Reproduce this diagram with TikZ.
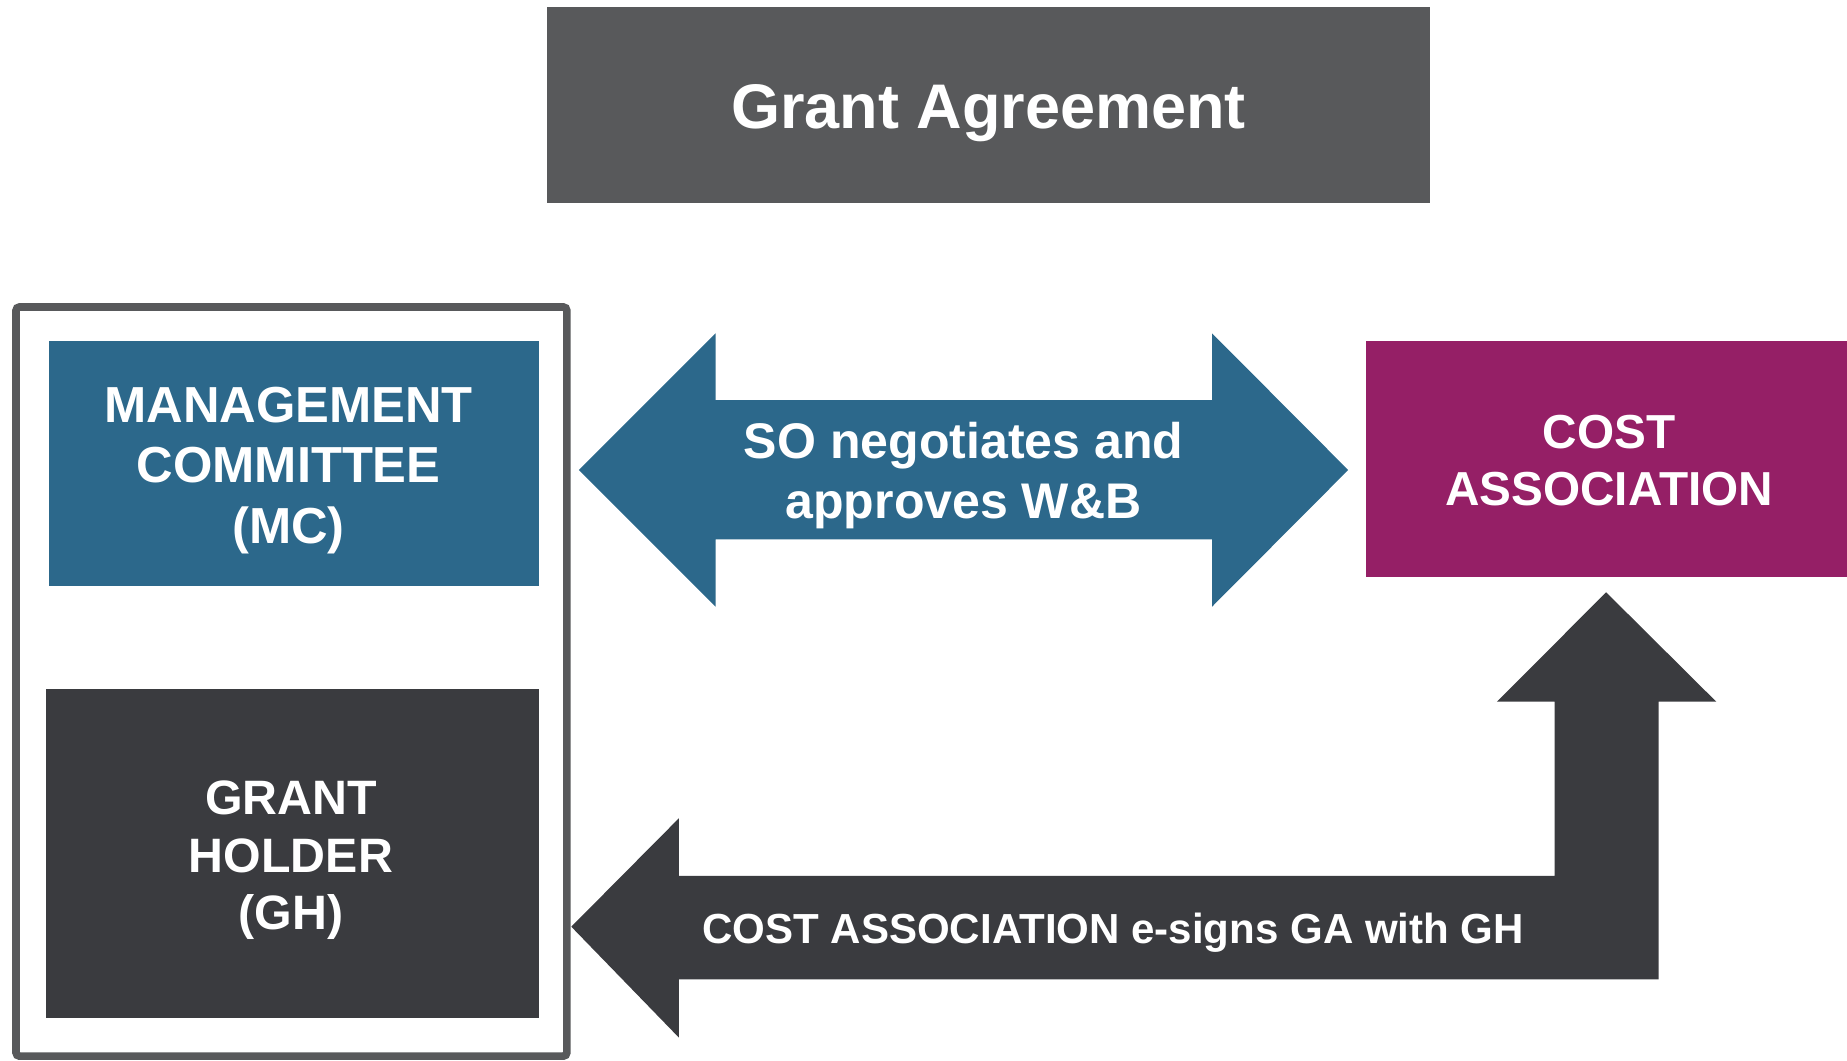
\documentclass[tikz,border=0pt]{standalone}
\usepackage{fontspec}
\setmainfont{Liberation Sans}
\definecolor{gagray}{HTML}{58595B}
\definecolor{gablue}{HTML}{2C688B}
\definecolor{gamag}{HTML}{951F66}
\definecolor{gadark}{HTML}{3A3B3F}
\begin{document}
\begin{tikzpicture}[x=1pt,y=-1pt,
  box/.style={draw=none,inner sep=0pt,outer sep=0pt},
  txt/.style={text=white,inner sep=0pt,outer sep=0pt,align=center,anchor=base},
  frameline/.style={draw=gagray,line width=6.5pt,rounded corners=3pt}]
\useasboundingbox (0,0) rectangle (1568,900);
% boxes
\node[box,fill=gagray,minimum width=749.2pt,minimum height=166.9pt] (ga) at (839,89.15) {};
\draw[frameline] (13.6,260.6) rectangle (481.2,896.6);
\coordinate (frame) at (247.4,578.6);
\node[box,fill=gablue,minimum width=416.2pt,minimum height=208pt] (mc) at (249.4,393.5) {};
\node[box,fill=gadark,minimum width=418.7pt,minimum height=279.3pt] (gh) at (248.05,724.85) {};
\node[box,fill=gamag,minimum width=408.7pt,minimum height=200.5pt] (ca) at (1363.65,389.75) {};
% double arrow SO
\coordinate (dl) at (491.5,399);
\coordinate (dr) at (1144.5,399);
\fill[gablue] (dl) -- (607.5,283) -- (607.5,339.6) -- (1029,339.6) -- (1029,283) -- (dr)
  -- (1029,515) -- (1029,457.8) -- (607.5,457.8) -- (607.5,515) -- cycle;
% bent arrow
\coordinate (bt) at (1363.5,502.8);
\coordinate (bl) at (485,786.7);
\fill[gadark] (bt) -- (1457,595.7) -- (1408,595.7) -- (1408,831.5) -- (576.3,831.5)
  -- (576.3,880.8) -- (bl) -- (576.3,694.7) -- (576.3,743.5) -- (1319.8,743.5)
  -- (1319.8,595.7) -- (1270.8,595.7) -- cycle;
% texts (anchor base = baseline of last line)
\node[txt,font=\bfseries\fontsize{53.5}{60}\selectfont] (gat) at (839.3,109.5) {Grant Agreement};
\node[txt,font=\bfseries\fontsize{43}{51}\selectfont] (mct) at (245,461) {MANAGEMENT\\COMMITTEE\\(MC)};
\node[txt,font=\bfseries\fontsize{41}{49}\selectfont] (ght) at (247,789.5) {GRANT\\HOLDER\\(GH)};
\node[txt,font=\bfseries\fontsize{40.5}{48.7}\selectfont] (cat) at (1366,429.3) {COST\\ASSOCIATION};
\node[txt,font=\bfseries\fontsize{42.5}{51}\selectfont] (sot) at (818,440) {SO negotiates and\\approves W\&B};
\node[txt,font=\bfseries\fontsize{35.7}{42}\selectfont] (est) at (945,800.6) {COST ASSOCIATION e-signs GA with GH};
\end{tikzpicture}
\end{document}
